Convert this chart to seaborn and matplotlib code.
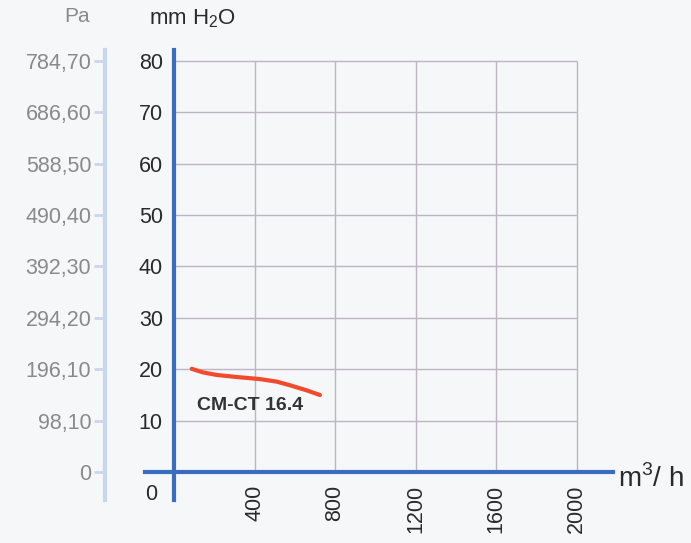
import numpy as np
import pandas as pd
import matplotlib
matplotlib.use('Agg')
import matplotlib.pyplot as plt
import seaborn as sns

# Data
flow = [88, 144, 213, 313, 427, 511, 576, 660, 725]                 # m3/h
pressure = [20.1, 19.4, 18.9, 18.5, 18.1, 17.6, 16.9, 15.9, 15.0]   # mm H2O
curve_name = 'CM-CT 16.4'

x_ticks = [400, 800, 1200, 1600, 2000]
y_ticks = [10, 20, 30, 40, 50, 60, 70, 80]
pa_ticks = [0, 98.10, 196.10, 294.20, 392.30, 490.40, 588.50, 686.60, 784.70]

df = pd.DataFrame({'flow': flow, 'pressure': pressure})

sns.set_style('white')
plt.rcParams['font.family'] = ['Liberation Sans', 'DejaVu Sans']
plt.rcParams['mathtext.fontset'] = 'custom'
plt.rcParams['mathtext.rm'] = 'Liberation Sans'

bg = '#f5f7f9'
blue = '#3a6cc0'
light_blue = '#c9d7ec'
grid_c = '#bdb4c4'
dark = '#2a2a2a'

fig = plt.figure(figsize=(6.91, 5.43), dpi=100, facecolor=bg)
ax = fig.add_axes([0.2098, 0.0792, 0.677, 0.829])
ax.set_facecolor(bg)

ax.set_xlim(-144, 2179)
ax.set_ylim(-5.4, 82.1)

# grid only inside the 0..2000 / 0..80 box
ax.hlines(y_ticks, 0, 2000, color=grid_c, lw=1.0, zorder=1)
ax.vlines(x_ticks, 0, 80, color=grid_c, lw=1.0, zorder=1)

sns.lineplot(data=df, x='flow', y='pressure', ax=ax, color='#f24a2c', lw=3,
             zorder=3, solid_capstyle='round', solid_joinstyle='round')
ax.text(115, 12.9, curve_name, fontsize=14, fontweight='bold', color='#333333',
        ha='left', va='center')

# spines through the origin
for s in ['top', 'right']:
    ax.spines[s].set_visible(False)
ax.spines['left'].set_position(('data', 0))
ax.spines['bottom'].set_position(('data', 0))
for s in ['left', 'bottom']:
    ax.spines[s].set_color(blue)
    ax.spines[s].set_linewidth(3)

ax.set_yticks(y_ticks)
ax.set_yticklabels([str(v) for v in y_ticks])
ax.set_xticks(x_ticks)
ax.set_xticklabels([str(v) for v in x_ticks], rotation=90)
ax.tick_params(axis='y', direction='out', length=7, width=2.2, color=blue,
               labelsize=15.5, labelcolor=dark, pad=1)
ax.tick_params(axis='x', direction='out', length=6, width=2.2, color=blue,
               labelsize=15.5, labelcolor=dark, pad=3)
ax.set_xlabel('')
ax.set_ylabel('')

ax.text(-115, -4.4, '0', fontsize=15.5, color=dark, ha='center', va='center')
ax.text(2205, -1.3, 'm$^3$/ h', fontsize=20, color=dark, ha='left', va='center',
        clip_on=False)

# Pa axis on the far left
sec = ax.secondary_yaxis(-0.085, functions=(lambda y: y * 9.81, lambda p: p / 9.81))
sec.set_yticks(pa_ticks)
sec.set_yticklabels([f'{v:.2f}'.replace('.', ',') if v else '0' for v in pa_ticks])
sec.spines['left'].set_color(light_blue)
sec.spines['left'].set_linewidth(3)
sec.tick_params(axis='y', direction='out', length=8, width=2, color=light_blue,
                labelsize=15.5, labelcolor='#8a8a8a', pad=2)

fig.text(77 / 691, 1 - 16 / 543, 'Pa', fontsize=15, color='#8a8a8a', ha='center', va='center')
fig.text(192 / 691, 1 - 19 / 543, 'mm H$_2$O', fontsize=16, color=dark,
         ha='center', va='center')

fig.savefig('out.png', dpi=100, facecolor=bg)
